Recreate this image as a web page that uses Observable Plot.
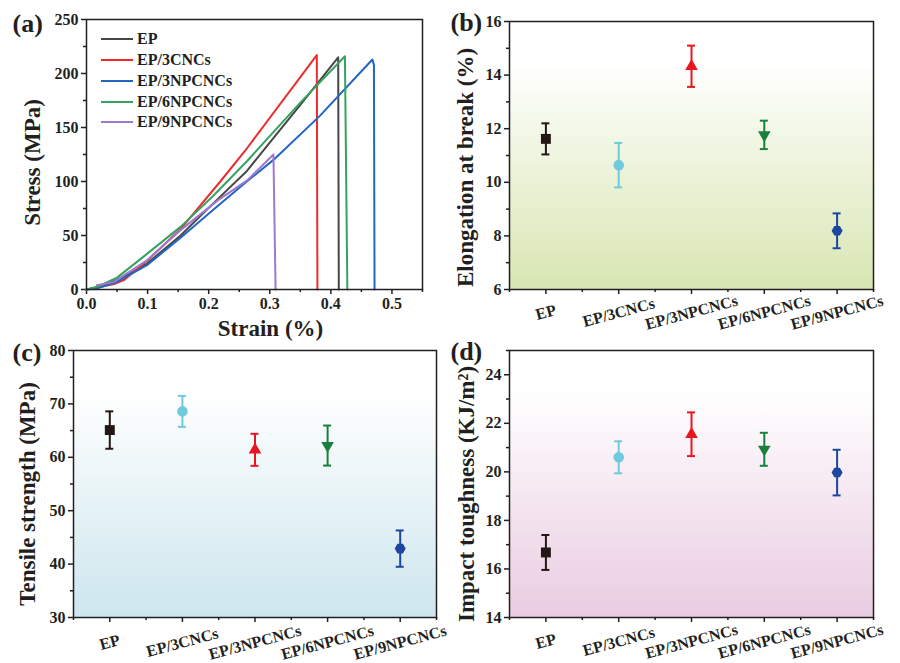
<!DOCTYPE html>
<html>
<head>
<meta charset="utf-8">
<script src="https://cdn.jsdelivr.net/npm/d3@7"></script>
<script src="https://cdn.jsdelivr.net/npm/@observablehq/plot@0.6"></script>
<style>
  body { margin: 0; background: #fff; }
  #fig { position: relative; width: 900px; height: 663px; overflow: hidden;
         font-family: "Liberation Serif", "Times New Roman", serif; font-weight: bold; color: #231f20; }
  .panel { position: absolute; }
  #legend { position: absolute; left: 101px; top: 29px; font-size: 16px; }
  #legend .row { display: flex; align-items: center; height: 20.75px; }
  #legend svg { margin-right: 4px; }
</style>
</head>
<body>
<div id="fig"></div>
<script>
// ---------------- DATA ----------------
// (a) stress-strain curves: [strain, stress]
const curveEP       = [[0,0],[0.02,2],[0.045,8],[0.072,15],[0.099,24],[0.154,50],[0.208,80],[0.263,110],[0.29,129],[0.35,171],[0.412,215],[0.413,0]];
const curve3CNCs    = [[0,0],[0.02,2],[0.045,5],[0.062,9],[0.1,27],[0.154,56],[0.219,100],[0.263,131],[0.377,217],[0.378,0]];
const curve3NPCNCs  = [[0,0],[0.02,1.5],[0.05,7],[0.099,22.5],[0.154,48],[0.208,74],[0.2516,95],[0.306,120],[0.3824,161],[0.393,167.5],[0.468,213],[0.4705,208],[0.4715,0]];
const curve6NPCNCs  = [[0,0],[0.02,3],[0.05,11],[0.099,33],[0.154,58],[0.208,87],[0.263,119],[0.279,129],[0.35,173],[0.423,216],[0.427,0]];
const curve9NPCNCs  = [[0.017,4],[0.045,7],[0.099,27],[0.154,55],[0.216,83],[0.263,101],[0.306,125],[0.3095,0]];

// samples
const samples = ["EP", "EP/3CNCs", "EP/3NPCNCs", "EP/6NPCNCs", "EP/9NPCNCs"];
// (b) elongation at break (%)
const elongMean = [11.62, 10.64, 14.33, 11.77, 8.19];
const elongSd   = [0.58, 0.83, 0.77, 0.53, 0.65];
// (c) tensile strength (MPa)
const tensileMean = [65.1, 68.6, 61.4, 62.2, 42.9];
const tensileSd   = [3.5, 2.9, 3.0, 3.75, 3.4];
// (d) impact toughness (KJ/m2)
const impactMean = [16.68, 20.6, 21.55, 20.93, 19.97];
const impactSd   = [0.72, 0.66, 0.9, 0.68, 0.94];

// ticks
const strainTicks = [0, 0.1, 0.2, 0.3, 0.4, 0.5];
const strainMinor = [0.05, 0.15, 0.25, 0.35, 0.45, 0.55];
const stressTicks = [0, 50, 100, 150, 200, 250];
const stressMinor = [25, 75, 125, 175, 225];
const elongTicks = [6, 8, 10, 12, 14, 16];
const elongMinor = [7, 9, 11, 13, 15];
const tensileTicks = [30, 40, 50, 60, 70, 80];
const tensileMinor = [35, 45, 55, 65, 75];
const impactTicks = [14, 16, 18, 20, 22, 24];
const impactMinor = [15, 17, 19, 21, 23, 25];

// ---------------- STYLE ----------------
const INK = "#231f20";
const FONT = "Liberation Serif, Times New Roman, serif";
const TITLE = 23;
const curveNames = ["EP", "EP/3CNCs", "EP/3NPCNCs", "EP/6NPCNCs", "EP/9NPCNCs"];
const curveData = [curveEP, curve3CNCs, curve3NPCNCs, curve6NPCNCs, curve9NPCNCs];
const curveColors = ["#474747", "#ee2c2c", "#2266c4", "#35a35f", "#9f77cf"];
const markerColors = ["#231815", "#6ecadc", "#e8161e", "#18803c", "#1d46a0"];

const triangleDown = {
  draw(ctx, size) {
    const y = -Math.sqrt(size / (Math.sqrt(3) * 3));
    ctx.moveTo(0, -y * 2);
    ctx.lineTo(-Math.sqrt(3) * y, y);
    ctx.lineTo(Math.sqrt(3) * y, y);
    ctx.closePath();
  }
};
const hexagon = {
  draw(ctx, size) {
    const R = Math.sqrt(2 * size / (3 * Math.sqrt(3)));
    for (let k = 0; k < 6; k++) {
      const a = k * Math.PI / 3;
      const px = R * Math.cos(a), py = R * Math.sin(a);
      if (k === 0) ctx.moveTo(px, py); else ctx.lineTo(px, py);
    }
    ctx.closePath();
  }
};
const markerSymbols = [d3.symbolSquare, d3.symbolCircle, d3.symbolTriangle, triangleDown, hexagon];
const markerR = [5.6, 5.3, 4.7, 4.7, 5.0];

function baseStyle() {
  return { fontFamily: FONT, fontSize: "16px", fontWeight: "bold", background: "transparent", overflow: "visible", color: INK };
}

function gradientMark(id, color) {
  return () => {
    const defs = d3.create("svg:defs");
    const g = defs.append("linearGradient").attr("id", id)
      .attr("x1", 0).attr("y1", 0).attr("x2", 0).attr("y2", 1);
    g.append("stop").attr("offset", "0%").attr("stop-color", "#ffffff");
    g.append("stop").attr("offset", "15%").attr("stop-color", "#ffffff");
    g.append("stop").attr("offset", "100%").attr("stop-color", color);
    return defs.node();
  };
}

const fig = document.getElementById("fig");
function place(svg, left, top) {
  svg.classList.add("panel");
  svg.style.left = left + "px";
  svg.style.top = top + "px";
  fig.appendChild(svg);
}

// ---------------- PANEL (a) ----------------
const pa = Plot.plot({
  width: 450, height: 330,
  marginLeft: 86, marginTop: 19, marginRight: 28, marginBottom: 41,
  x: { domain: [0, 0.55] },
  y: { domain: [0, 250] },
  style: baseStyle(),
  marks: [
    Plot.axisX({ ticks: strainTicks, tickSize: 5, tickPadding: 3, tickFormat: d => d.toFixed(1), strokeWidth: 1.5, fontSize: 16, label: null }),
    Plot.axisX({ ticks: strainMinor, tickSize: 3, tickFormat: () => "", strokeWidth: 1.5, label: null }),
    Plot.axisY({ ticks: stressTicks, tickSize: 5, tickPadding: 3, strokeWidth: 1.5, fontSize: 16, label: null }),
    Plot.axisY({ ticks: stressMinor, tickSize: 3, tickFormat: () => "", strokeWidth: 1.5, label: null }),
    ...curveData.map((c, i) => Plot.line(c, { x: d => d[0], y: d => d[1], stroke: curveColors[i], strokeWidth: 2 })),
    Plot.frame({ stroke: INK, strokeWidth: 1.5 }),
    Plot.text(["Strain (%)"], { frameAnchor: "bottom", textAnchor: "middle", lineAnchor: "middle", dx: 16, dy: 39, fontSize: TITLE }),
    Plot.text(["Stress (MPa)"], { frameAnchor: "left", textAnchor: "middle", lineAnchor: "middle", rotate: -90, dx: -54, dy: 8, fontSize: TITLE }),
    Plot.text(["(a)"], { frameAnchor: "top-left", textAnchor: "start", lineAnchor: "middle", dx: -74, dy: 4, fontSize: 26 })
  ]
});
place(pa, 0, 0);

// legend for (a)
const legend = document.createElement("div");
legend.id = "legend";
curveNames.forEach((n, i) => {
  const row = document.createElement("div");
  row.className = "row";
  row.innerHTML = `<svg width="32" height="4"><line x1="0" y1="2" x2="32" y2="2" stroke="${curveColors[i]}" stroke-width="2"/></svg><span>${n}</span>`;
  legend.appendChild(row);
});
fig.appendChild(legend);

// ---------------- category panels ----------------
function categoryPanel({ mean, sd, yDomain, yTicks, yMinor, gradId, gradColor, label, labelDx, labelDy, tag, tagDx, tagDy, catDy, height, marginTop, marginBottom, marginLeft, marginRight }) {
  const rows = samples.map((s, i) => ({ i: i + 1, name: s, m: mean[i], lo: mean[i] - sd[i], hi: mean[i] + sd[i] }));
  const marks = [
    gradientMark(gradId, gradColor),
    Plot.frame({ fill: `url(#${gradId})`, stroke: "none" }),
    Plot.axisX({ ticks: [1, 2, 3, 4, 5], tickSize: 5, tickFormat: () => "", strokeWidth: 1.5, label: null }),
    Plot.axisX({ ticks: [0.5, 1.5, 2.5, 3.5, 4.5, 5.5], tickSize: 3, tickFormat: () => "", strokeWidth: 1.5, label: null }),
    Plot.axisY({ ticks: yTicks, tickSize: 5, tickPadding: 3, strokeWidth: 1.5, fontSize: 16, label: null }),
    Plot.axisY({ ticks: yMinor, tickSize: 3, tickFormat: () => "", strokeWidth: 1.5, label: null })
  ];
  rows.forEach((r, k) => {
    const c = markerColors[k];
    marks.push(
      Plot.ruleX([r], { x: "i", y1: "lo", y2: "hi", stroke: c, strokeWidth: 2 }),
      Plot.ruleY([r], { y: "hi", x1: d => d.i - 0.055, x2: d => d.i + 0.055, stroke: c, strokeWidth: 2 }),
      Plot.ruleY([r], { y: "lo", x1: d => d.i - 0.055, x2: d => d.i + 0.055, stroke: c, strokeWidth: 2 }),
      Plot.dot([r], { x: "i", y: "m", symbol: markerSymbols[k], r: markerR[k], fill: c })
    );
  });
  marks.push(
    Plot.text(rows, { x: "i", text: "name", frameAnchor: "bottom", textAnchor: "middle", lineAnchor: "middle", dy: catDy, rotate: -15, fontSize: 16 }),
    Plot.frame({ stroke: INK, strokeWidth: 1.5 }),
    Plot.text([label], { frameAnchor: "left", textAnchor: "middle", lineAnchor: "middle", rotate: -90, dx: labelDx, dy: labelDy, fontSize: TITLE }),
    Plot.text([tag], { frameAnchor: "top-left", textAnchor: "start", lineAnchor: "middle", dx: tagDx, dy: tagDy, fontSize: 26 })
  );
  return Plot.plot({
    width: 450, height,
    marginLeft, marginTop, marginRight, marginBottom,
    x: { domain: [0.5, 5.5] },
    y: { domain: yDomain },
    style: baseStyle(),
    marks
  });
}

place(categoryPanel({
  mean: elongMean, sd: elongSd, yDomain: [6, 16], yTicks: elongTicks, yMinor: elongMinor,
  gradId: "gradB", gradColor: "#d8e6b2", label: "Elongation at break (%)", labelDx: -44, labelDy: 12,
  tag: "(b)", tagDx: -59, tagDy: 1, catDy: 23,
  height: 330, marginTop: 21, marginBottom: 41, marginLeft: 59, marginRight: 27
}), 450, 0);

place(categoryPanel({
  mean: tensileMean, sd: tensileSd, yDomain: [30, 80], yTicks: tensileTicks, yMinor: tensileMinor,
  gradId: "gradC", gradColor: "#cde6ee", label: "Tensile strength (MPa)", labelDx: -46, labelDy: 10,
  tag: "(c)", tagDx: -61, tagDy: 2, catDy: 25,
  height: 333, marginTop: 20, marginBottom: 46, marginLeft: 73, marginRight: 14
}), 0, 330);

place(categoryPanel({
  mean: impactMean, sd: impactSd, yDomain: [14, 25], yTicks: impactTicks, yMinor: impactMinor,
  gradId: "gradD", gradColor: "#eacce2", label: "Impact toughness (KJ/m²)", labelDx: -43, labelDy: 10,
  tag: "(d)", tagDx: -59, tagDy: 1, catDy: 24,
  height: 333, marginTop: 20, marginBottom: 46, marginLeft: 59, marginRight: 27
}), 450, 330);
</script>
</body>
</html>
